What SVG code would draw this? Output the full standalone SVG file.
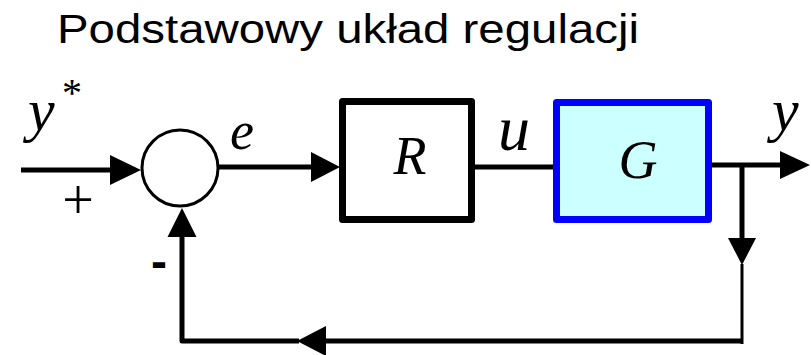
<svg xmlns="http://www.w3.org/2000/svg" width="811" height="355" viewBox="0 0 811 355">
  <style>
    .title { font-family: "Liberation Sans", Arial, sans-serif; font-size: 40px; fill: #000; }
    .sym { font-family: "Liberation Serif", "Times New Roman", serif; font-style: italic; fill: #000; }
    .up { font-family: "Liberation Serif", "Times New Roman", serif; fill: #000; }
    .wire { fill: none; stroke: #000; stroke-width: 5; stroke-linecap: butt; stroke-linejoin: round; }
    .thin { fill: none; stroke: #000; stroke-width: 3; }
    .head { fill: #000; stroke: none; }
    .block { fill: #fff; stroke: #000; stroke-width: 7; stroke-linejoin: round; }
    .plant { fill: #ccffff; stroke: #0000ff; stroke-width: 7; stroke-linejoin: round; }
  </style>

  <rect width="811" height="355" fill="#fff"/>

  <text class="title" x="57" y="43" textLength="582" lengthAdjust="spacingAndGlyphs">Podstawowy układ regulacji</text>

  <!-- connectors -->
  <g id="connectors">
    <!-- reference input -->
    <line class="wire" x1="21" y1="170" x2="112" y2="170"/>
    <polygon class="head" points="110,155 141,170 110,185"/>
    <!-- error to controller -->
    <line class="wire" x1="218" y1="167" x2="313" y2="167"/>
    <polygon class="head" points="311,152 340,167 311,182"/>
    <!-- control signal -->
    <line class="wire" x1="475" y1="167" x2="553" y2="167"/>
    <!-- output -->
    <line class="wire" x1="712" y1="165" x2="782" y2="165"/>
    <polygon class="head" points="780,151 810,165 780,179"/>
    <!-- feedback path -->
    <line class="wire" x1="742" y1="163" x2="742" y2="240"/>
    <polygon class="head" points="728,238 756,238 742,265"/>
    <line class="thin" x1="742" y1="264" x2="742" y2="344"/>
    <line class="wire" x1="742" y1="341" x2="323" y2="341"/>
    <polygon class="head" points="326,326 297,341 326,356"/>
    <polyline class="wire" points="299,341 182,341 182,235"/>
    <polygon class="head" points="167.5,237 196.5,237 182,208"/>
  </g>

  <!-- summing junction -->
  <g id="sum">
    <circle class="thin" cx="180" cy="168" r="38"/>
    <text class="up" x="78" y="219" font-size="56" text-anchor="middle">+</text>
    <text x="151" y="278" font-family="Liberation Sans, Arial, sans-serif" font-size="48" font-weight="bold">-</text>
  </g>

  <!-- controller -->
  <g id="R">
    <rect class="block" x="342.5" y="101.5" width="129" height="118"/>
    <text class="sym" x="410" y="174" font-size="54" text-anchor="middle">R</text>
  </g>

  <!-- plant -->
  <g id="G">
    <rect class="plant" x="556.5" y="102.5" width="152" height="117"/>
    <text class="sym" x="638" y="178" font-size="54" text-anchor="middle">G</text>
  </g>

  <!-- signal labels -->
  <g id="labels">
    <text class="sym" x="28" y="130" font-size="60">y</text>
    <text class="up" x="62" y="106" font-size="40">*</text>
    <text class="sym" x="230" y="149" font-size="54">e</text>
    <text class="sym" x="498" y="150" font-size="64">u</text>
    <text class="sym" x="772" y="130" font-size="60">y</text>
  </g>
</svg>
